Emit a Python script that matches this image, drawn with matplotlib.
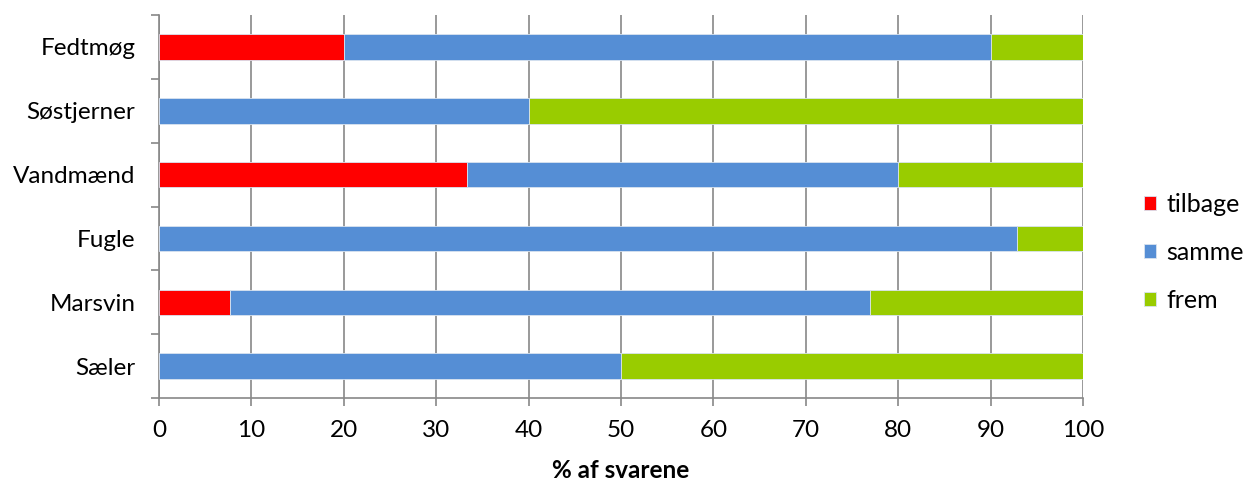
import matplotlib
matplotlib.use("Agg")
import matplotlib.pyplot as plt
import numpy as np

categories = ["Fedtmøg", "Søstjerner", "Vandmænd", "Fugle", "Marsvin", "Sæler"]
tilbage = [20.0, 0.0, 33.3, 0.0, 7.7, 0.0]
samme = [70.0, 40.0, 46.7, 92.9, 69.2, 50.0]
frem = [10.0, 60.0, 20.0, 7.1, 23.1, 50.0]
series_names = ["tilbage", "samme", "frem"]
colors = ["#FF0000", "#558ED5", "#99CC00"]
x_ticks = list(range(0, 101, 10))

plt.rcParams['font.family'] = ['Lato', 'DejaVu Sans']

fig = plt.figure(figsize=(12.48, 4.82), dpi=100)
ax = fig.add_axes([0.1274, 0.174, 0.7404, 0.795])

y = np.arange(len(categories))[::-1]
left = np.zeros(len(categories))
for name, vals, c in zip(series_names, [tilbage, samme, frem], colors):
    vals = np.array(vals)
    ax.barh(y, vals, left=left, height=0.4, color=c, label=name,
            edgecolor="#D9E3F0", linewidth=0.6, zorder=3)
    left += vals

fs = 17.5
ax.set_xlim(0, 100)
ax.set_ylim(-0.5, len(categories) - 0.5)
ax.set_xticks(x_ticks)
ax.set_xticklabels([str(t) for t in x_ticks], fontsize=fs)
ax.set_yticks(y)
ax.set_yticklabels(categories, fontsize=fs)
ax.set_yticks(np.arange(-0.5, len(categories), 1.0), minor=True)
ax.tick_params(axis='y', which='major', length=0, pad=17)
ax.tick_params(axis='y', which='minor', length=6, color="#888888", width=1.2)
ax.tick_params(axis='x', length=6, color="#888888", width=1.2, pad=10)
ax.grid(axis='x', color="#888888", linewidth=1.2, zorder=0)
ax.set_axisbelow(True)
for s in ["top", "right"]:
    ax.spines[s].set_visible(False)
for s in ["left", "bottom"]:
    ax.spines[s].set_color("#888888")
    ax.spines[s].set_linewidth(1.2)
ax.set_xlabel("% af svarene", fontsize=fs, fontweight="bold", labelpad=13)

ax.legend(loc="center left", bbox_to_anchor=(1.055, 0.38), frameon=False,
          fontsize=18, handlelength=0.5, handleheight=0.5, labelspacing=1.0,
          handletextpad=0.4, borderaxespad=0.0)

fig.savefig("out.png", dpi=100)
